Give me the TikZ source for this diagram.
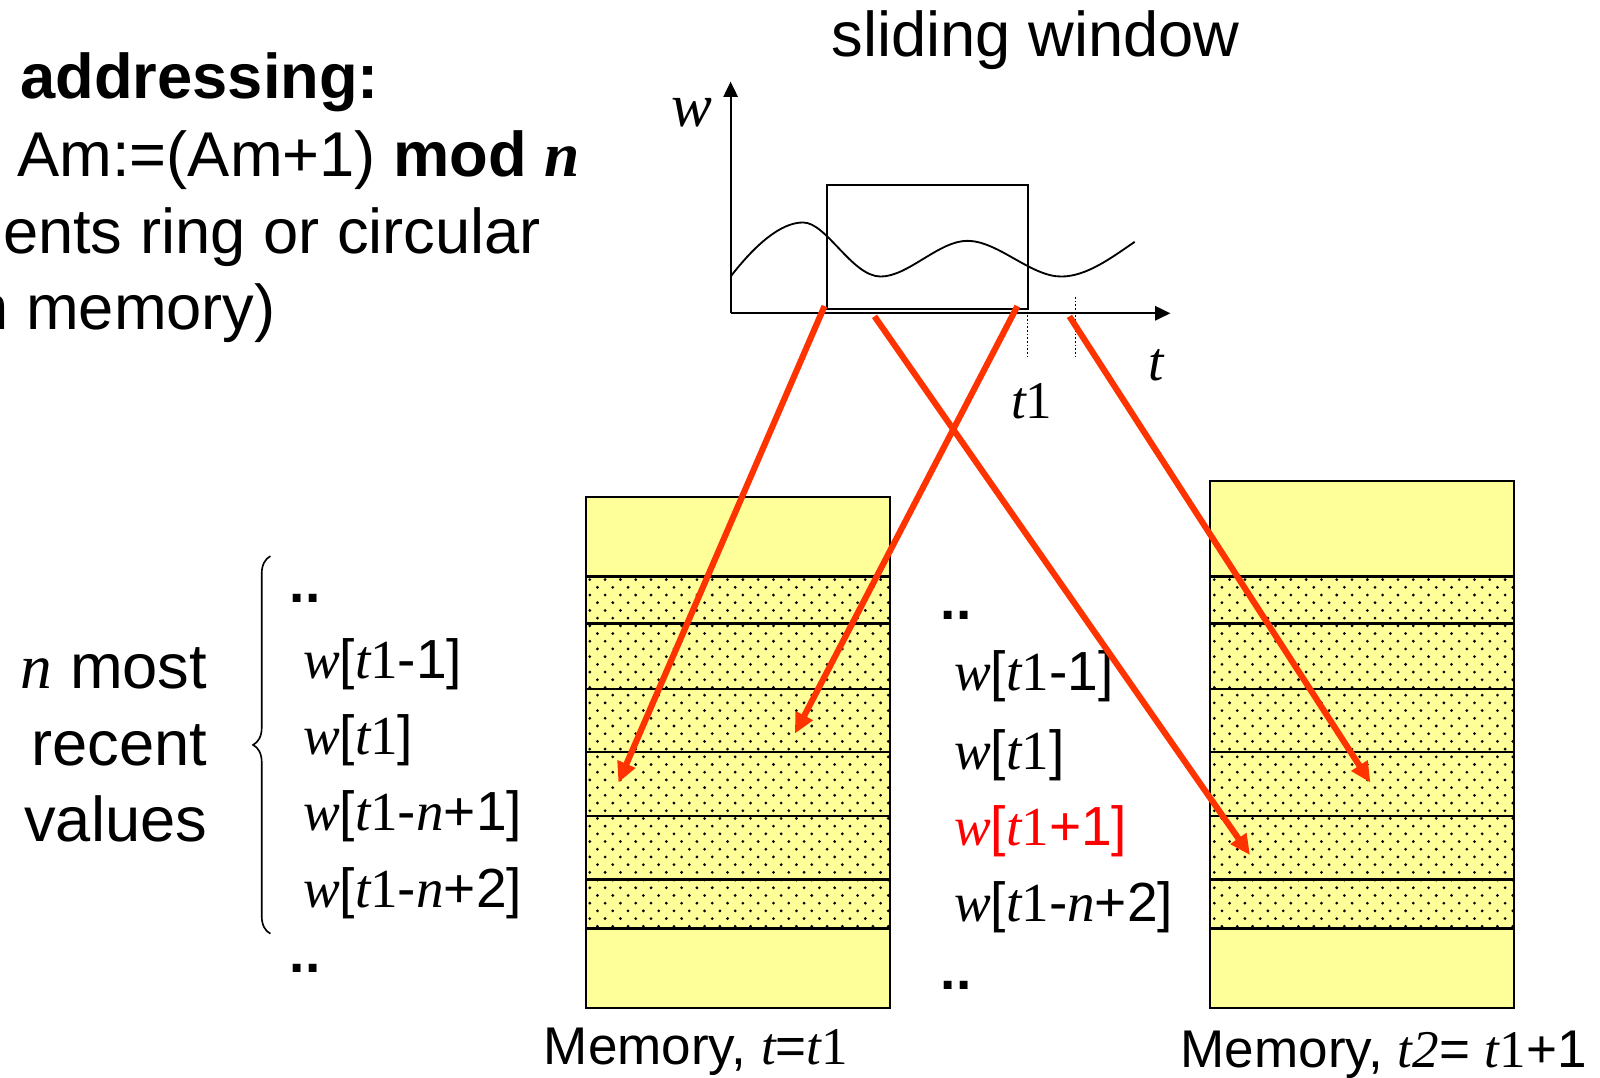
\documentclass[tikz,border=0pt]{standalone}
\usepackage{fontspec}
\setmainfont{Liberation Sans}
\newfontfamily\tms{Liberation Serif}
\usetikzlibrary{arrows.meta,decorations.pathreplacing}
\definecolor{memyellow}{HTML}{FFFF99}
\definecolor{arrowred}{HTML}{FF3300}
\definecolor{txtred}{HTML}{FF0000}
\newcommand\vi[1]{{\tms\itshape #1}}
\newcommand\vr[1]{{\tms #1}}
\newcommand\tone{\vi{t}\vr{1}}
\begin{document}
\begin{tikzpicture}[x=0.5pt,y=-0.5pt,
  every node/.style={inner sep=0pt,outer sep=0pt},
  big/.style={font=\fontsize{31}{37}\selectfont},
  lst/.style={font=\fontsize{27}{32}\selectfont, anchor=base west},
  memlab/.style={font=\fontsize{26}{31}\selectfont, anchor=base},
  rowline/.style={line width=1.1pt},
  redarrow/.style={draw=arrowred, line width=3pt, -{Triangle[length=10pt,width=9pt]}},
  axisline/.style={line width=1pt, -{Triangle[length=7.5pt,width=7pt]}},
]
\useasboundingbox (0,0) rectangle (1568,1056);
\clip (0,0) rectangle (1568,1056);

% memory blocks
\foreach \bx/\tp in {574/487, 1186/471}{
  \fill[memyellow] (\bx,\tp) rectangle (\bx+298,988);
  \begin{scope}
    \clip (\bx,565) rectangle (\bx+298,910);
    \foreach \r in {0,...,45}{
      \pgfmathsetmacro\dy{568+\r*7.55}
      \pgfmathsetmacro\dx{\bx+4+mod(\r,2)*7.5}
      \foreach \c in {0,...,19}{
        \fill (\dx+\c*15,\dy) circle[radius=1.5];
      }
    }
  \end{scope}
  \foreach \yy in {565,611,675,737,800,862,910}
    \draw[rowline] (\bx,\yy) -- (\bx+298,\yy);
  \draw[line width=1.1pt] (\bx,\tp) rectangle (\bx+298,988);
}

% graph
\coordinate (orig) at (716,307);
\coordinate (ytip) at (716,80);
\coordinate (xtip) at (1147,307);
\draw[axisline] (orig) -- (ytip);
\draw[axisline] (orig) -- (xtip);
\draw[line width=1pt] (810,181) rectangle (1007,303);
\draw[line width=0.9pt] (716,271) .. controls (740,240) and (765,218) .. (787,218)
  .. controls (810,218) and (835,271) .. (863,271)
  .. controls (890,271) and (920,236) .. (948,236)
  .. controls (978,236) and (1010,271) .. (1040,271)
  .. controls (1065,271) and (1090,252) .. (1112,237);
\draw[densely dotted, line width=0.8pt] (1007,291) -- (1007,351);
\draw[densely dotted, line width=0.8pt] (1054,291) -- (1054,351);

\node[big, anchor=base] (title) at (1015,55) {sliding window};
\node[font=\fontsize{30}{36}\selectfont, anchor=base] (wlab) at (678,124) {\vi{w}};
\node[font=\fontsize{27}{32}\selectfont, anchor=base] (tlab) at (1133,373) {\vi{t}};
\node[font=\fontsize{26}{32}\selectfont, anchor=base] (t1lab) at (1011,410) {\tone};

% left text
\node[big, anchor=base west] (l1) at (20,97) {\textbf{addressing:}};
\node[big, anchor=base west] (l2) at (17,173) {Am:=(Am+1) \textbf{mod} {\tms\bfseries\itshape n}};
\node[big, anchor=base west] (l3) at (3,248) {ents ring or circular};
\node[big, anchor=base west] (l4) at (-26,323) {n memory)};

\node[big, anchor=base east] (n1) at (203,675) {\vi{n} most};
\node[big, anchor=base east] (n2) at (203,750) {recent};
\node[big, anchor=base east] (n3) at (203,825) {values};

\draw[decorate, decoration={brace, amplitude=8.5pt}, line width=0.8pt] (265,915) -- (265,545);

% left list
\node[lst] (a0) at (284,590) {\textbf{..}};
\node[lst] (a1) at (297,665) {\vi{w}[\tone-1]};
\node[lst] (a2) at (297,739) {\vi{w}[\tone]};
\node[lst] (a3) at (297,814) {\vi{w}[\tone-\vi{n}+1]};
\node[lst] (a4) at (297,889) {\vi{w}[\tone-\vi{n}+2]};
\node[lst] (a5) at (284,953) {\textbf{..}};

% middle list
\node[lst] (b0) at (922,607) {\textbf{..}};
\node[lst] (b1) at (935,677) {\vi{w}[\tone-1]};
\node[lst] (b2) at (935,754) {\vi{w}[\tone]};
\node[lst, text=txtred] (b3) at (935,829) {\vi{w}[\tone+1]};
\node[lst] (b4) at (935,903) {\vi{w}[\tone-\vi{n}+2]};
\node[lst] (b5) at (922,970) {\textbf{..}};

% bottom labels
\node[memlab] (m1) at (682,1043) {Memory, \vi{t}=\tone};
\node[memlab] (m2) at (1356,1046) {Memory, \vi{t}\vi{2}= \tone+1};

% red arrows
\coordinate (s1) at (808,300); \coordinate (e1) at (606,767);
\coordinate (s2) at (997,300); \coordinate (e2) at (779,719);
\coordinate (s3) at (857,310); \coordinate (e3) at (1225,838);
\coordinate (s4) at (1048,310); \coordinate (e4) at (1343,767);
\draw[redarrow] (s1) -- (e1);
\draw[redarrow] (s2) -- (e2);
\draw[redarrow] (s3) -- (e3);
\draw[redarrow] (s4) -- (e4);
\end{tikzpicture}
\end{document}
